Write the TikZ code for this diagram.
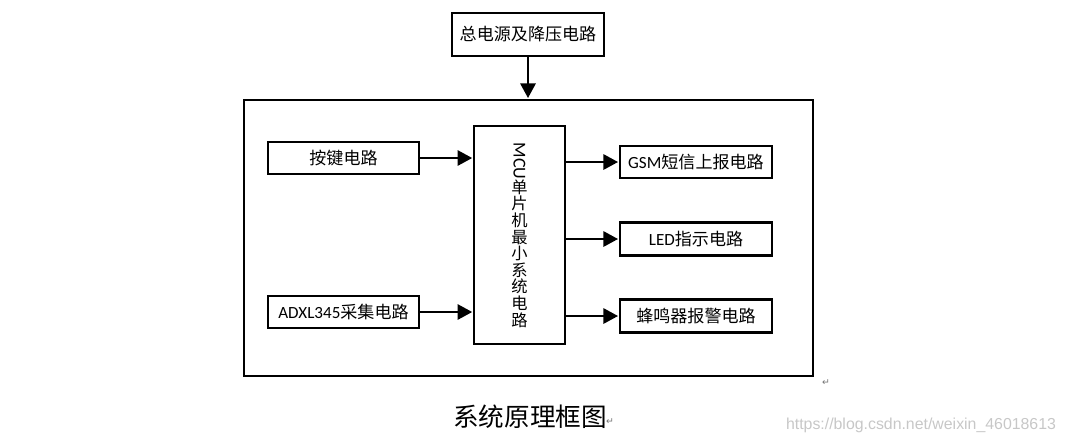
\documentclass[tikz,border=0pt]{standalone}
\usepackage{fontspec}
\setmainfont{Carlito}
\newfontfamily\cjk{Noto Sans CJK SC}
\newfontfamily\dejavu{DejaVu Sans}
\newfontfamily\wm{Liberation Sans}
\usetikzlibrary{arrows.meta}
\newcommand{\zh}[1]{{\cjk #1}}
\newcommand{\tightlines}{\lineskiplimit -30pt\relax}
\tikzset{
  blockbox/.style={draw=black,line width=1.95pt,fill=white,inner sep=0pt,font=\fontsize{12.8pt}{15pt}\selectfont},
  conn/.style={draw=black,line width=1.6pt,-{Triangle[length=11pt,width=11.5pt]},shorten >=0.5pt},
  retmark/.style={text=black!55,font=\dejavu\fontsize{7pt}{8pt}\selectfont,inner sep=0pt},
}
\begin{document}
\begin{tikzpicture}[x=0.75pt,y=-0.75pt]
\useasboundingbox (0,0) rectangle (1065,444);
\node[blockbox,minimum width=114pt,minimum height=32pt] (top) at (528,34.5) {\zh{总电源及降压电路}};
\node[blockbox,minimum width=427pt,minimum height=207pt] (outer) at (528.5,238) {};
\node[blockbox,minimum width=68pt,minimum height=163.5pt] (mcu) at (519.5,235) {};
\node[inner sep=0pt,align=center,font=\fontsize{12.2pt}{12.45pt}\selectfont\tightlines] (mcut) at (mcu.center)
  {\rotatebox{-90}{\fontsize{13.6pt}{15pt}\selectfont MCU}\\[25.4pt]\zh{单}\\\zh{片}\\\zh{机}\\\zh{最}\\\zh{小}\\\zh{系}\\\zh{统}\\\zh{电}\\\zh{路}};
\node[blockbox,minimum width=113pt,minimum height=24pt] (key) at (343.5,158) {\zh{按键电路}};
\node[blockbox,minimum width=113pt,minimum height=24pt] (adxl) at (343.5,312) {ADXL345\zh{采集电路}};
\node[blockbox,minimum width=114pt,minimum height=24pt] (gsm) at (696,162) {GSM\zh{短信上报电路}};
\node[blockbox,minimum width=114pt,minimum height=25pt] (led) at (696,239) {LED\zh{指示电路}};
\node[blockbox,minimum width=114pt,minimum height=25pt] (buzz) at (696,316) {\zh{蜂鸣器报警电路}};
\draw[conn] (top.south) -- (top.south |- outer.north);
\draw[conn] (key.east) -- (mcu.west |- key.east);
\draw[conn] (adxl.east) -- (mcu.west |- adxl.east);
\draw[conn] (mcu.east |- gsm.west) -- (gsm.west);
\draw[conn] (mcu.east |- led.west) -- (led.west);
\draw[conn] (mcu.east |- buzz.west) -- (buzz.west);
\node[inner sep=0pt,font=\cjk\fontsize{19.2pt}{22pt}\selectfont] (cap) at (530,417) {系统原理框图};
\node[retmark] (r1) at (826,383) {↵};
\node[retmark] (r2) at (610,422) {↵};
\node[inner sep=0pt,text=black!22,font=\wm\fontsize{11.9pt}{14pt}\selectfont] (wmk) at (921,425.5) {https://blog.csdn.net/weixin\_46018613};
\end{tikzpicture}
\end{document}
